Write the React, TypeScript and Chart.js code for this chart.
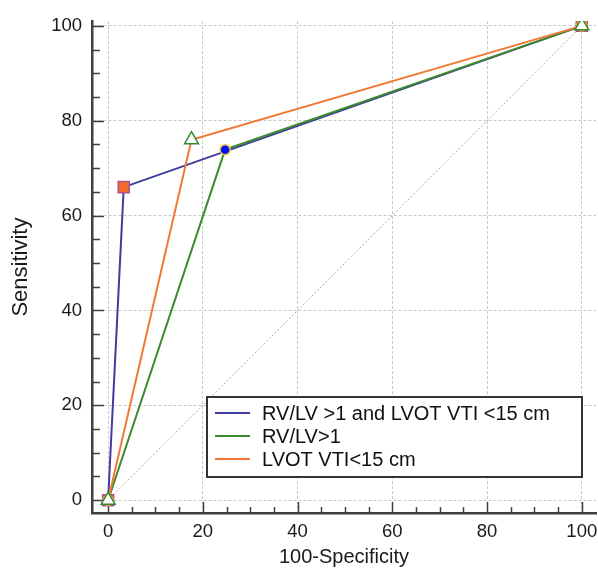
import React, { useEffect, useRef } from "react";
import { Chart, registerables } from "chart.js";

Chart.register(...registerables);

const seriesLabels = ["RV/LV >1 and LVOT VTI <15 cm", "RV/LV>1", "LVOT VTI<15 cm"];
const comboX = [0, 3.3, 100];
const comboY = [0, 66, 100];
const rvlvX = [0, 24.7, 100];
const rvlvY = [0, 73.9, 100];
const lvotX = [0, 17.6, 100];
const lvotY = [0, 76, 100];
const diagX = [0, 100];
const diagY = [0, 100];
const tickValues = [0, 20, 40, 60, 80, 100];
const minorStep = 5;

const FONT = "Arial, 'Liberation Sans', sans-serif";
const lineColors = ["#3d3d9e", "#3b8a2c", "#f27935"];

const toPts = (xs: number[], ys: number[]) => xs.map((x, i) => ({ x, y: ys[i] }));

const innerTicks = {
  id: "innerTicks",
  beforeDatasetsDraw(chart: any) {
    const { ctx, chartArea, scales } = chart;
    const xs = scales.x;
    const ys = scales.y;
    ctx.save();
    ctx.strokeStyle = "#404040";
    ctx.lineWidth = 1.5;
    ctx.setLineDash([]);
    for (let v = 0; v <= 100; v += minorStep) {
      const major = v % 20 === 0;
      const px = Math.round(xs.getPixelForValue(v)) + 0.5;
      ctx.beginPath();
      ctx.moveTo(px, chartArea.bottom);
      ctx.lineTo(px, chartArea.bottom - (major ? 11 : 6));
      ctx.stroke();
      const py = Math.round(ys.getPixelForValue(v)) + 0.5;
      ctx.beginPath();
      ctx.moveTo(chartArea.left, py);
      ctx.lineTo(chartArea.left + (major ? 12 : 8), py);
      ctx.stroke();
    }
    // x tick labels
    ctx.fillStyle = "#1a1a1a";
    ctx.font = `18.5px ${FONT}`;
    ctx.textAlign = "center";
    ctx.textBaseline = "middle";
    tickValues.forEach((v) => {
      ctx.fillText(String(v), xs.getPixelForValue(v), chartArea.bottom + 19);
    });
    ctx.restore();
  },
};

const boxLegend = {
  id: "boxLegend",
  afterDraw(chart: any) {
    const { ctx } = chart;
    const left = 207, top = 397, w = 375, h = 80;
    ctx.save();
    ctx.setLineDash([]);
    ctx.fillStyle = "#ffffff";
    ctx.fillRect(left, top, w, h);
    ctx.strokeStyle = "#333333";
    ctx.lineWidth = 2;
    ctx.strokeRect(left, top, w, h);
    ctx.font = `20px ${FONT}`;
    ctx.textBaseline = "middle";
    seriesLabels.forEach((lab, i) => {
      const y = top + 16 + i * 23;
      ctx.strokeStyle = lineColors[i];
      ctx.lineWidth = 2;
      ctx.beginPath();
      ctx.moveTo(left + 8, y);
      ctx.lineTo(left + 43, y);
      ctx.stroke();
      ctx.fillStyle = "#111111";
      ctx.fillText(lab, left + 55, y + 1);
    });
    ctx.restore();
  },
};

export default function App() {
  const ref = useRef<HTMLCanvasElement>(null);
  useEffect(() => {
    if (!ref.current) return;
    const chart = new Chart(ref.current, {
      type: "scatter",
      data: {
        datasets: [
          {
            label: "diag",
            data: toPts(diagX, diagY),
            showLine: true,
            borderColor: "#d39aa0",
            borderWidth: 1,
            borderDash: [2, 2],
            pointRadius: 0,
            order: 4,
          },
          {
            label: seriesLabels[0],
            data: toPts(comboX, comboY),
            showLine: true,
            borderColor: lineColors[0],
            borderWidth: 2,
            pointStyle: "rect",
            pointRadius: 7.8,
            pointBackgroundColor: "#ef6b2e",
            pointBorderColor: "#b0508a",
            pointBorderWidth: 1.5,
            order: 3,
          },
          {
            label: seriesLabels[1],
            data: toPts(rvlvX, rvlvY),
            showLine: true,
            borderColor: lineColors[1],
            borderWidth: 2,
            pointStyle: "circle",
            pointRadius: 5,
            pointBackgroundColor: "#0010ff",
            pointBorderColor: "#e8c830",
            pointBorderWidth: 1.5,
            order: 2,
          },
          {
            label: seriesLabels[2],
            data: toPts(lvotX, lvotY),
            showLine: true,
            borderColor: lineColors[2],
            borderWidth: 2,
            pointStyle: "triangle",
            pointRadius: 8,
            pointBackgroundColor: "#ffffff",
            pointBorderColor: "#2f8a2a",
            pointBorderWidth: 1.5,
            order: 1,
          },
        ],
      },
      options: {
        animation: false,
        responsive: true,
        maintainAspectRatio: false,
        layout: { autoPadding: false, padding: { top: 20, right: 2, left: 0, bottom: 0 } },
        plugins: { legend: { display: false }, tooltip: { enabled: false } },
        scales: {
          x: {
            type: "linear",
            min: -3.4,
            max: 103,
            afterBuildTicks: (s: any) => {
              s.ticks = tickValues.map((v) => ({ value: v }));
            },
            afterFit: (s: any) => {
              s.height = 56;
            },
            grid: {
              color: "#c8c8c8",
              lineWidth: 1,
              drawTicks: false,
            },
            border: { display: true, color: "#404040", width: 2.5, dash: [3, 2] },
            ticks: { display: false },
            title: {
              display: true,
              text: "100-Specificity",
              color: "#1a1a1a",
              font: { family: FONT, size: 20 },
              padding: { top: 0, bottom: 0 },
            },
          },
          y: {
            type: "linear",
            min: -2.7,
            max: 101,
            afterBuildTicks: (s: any) => {
              s.ticks = tickValues.map((v) => ({ value: v }));
            },
            afterFit: (s: any) => {
              s.width = 92;
            },
            grid: {
              color: "#c8c8c8",
              lineWidth: 1,
              drawTicks: false,
            },
            border: { display: true, color: "#404040", width: 2.5, dash: [3, 2] },
            ticks: {
              padding: 10,
              color: "#1a1a1a",
              font: { family: FONT, size: 18.5 },
            },
            title: {
              display: true,
              text: "Sensitivity",
              color: "#1a1a1a",
              font: { family: FONT, size: 22 },
              padding: { top: 8, bottom: 0 },
            },
          },
        },
      },
      plugins: [innerTicks, boxLegend],
    } as any);
    return () => chart.destroy();
  }, []);
  return (
    <div style={{ position: "absolute", left: 0, top: 0, width: 598, height: 569 }}>
      <canvas ref={ref} />
    </div>
  );
}
